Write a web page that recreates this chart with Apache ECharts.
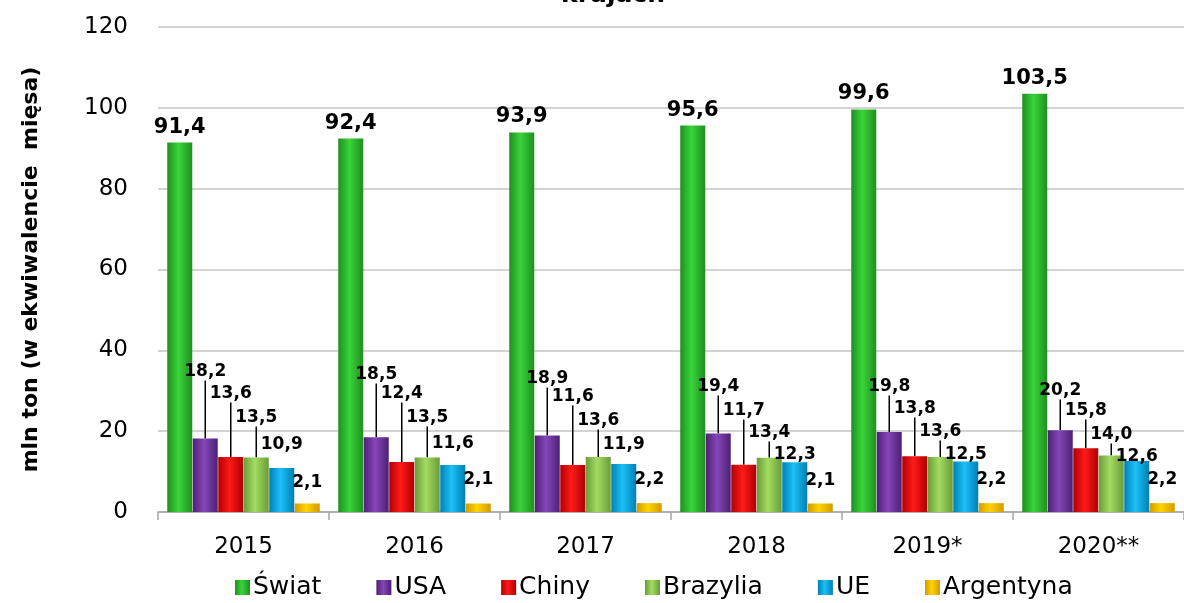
<!DOCTYPE html>
<html>
<head>
<meta charset="utf-8">
<script src="https://cdn.jsdelivr.net/npm/echarts@6/dist/echarts.min.js"></script>
<style>
html, body { margin: 0; padding: 0; background: #ffffff; }
#main { width: 1184px; height: 603px; }
</style>
</head>
<body>
<div id="main"></div>
<script>
var years = ['2015', '2016', '2017', '2018', '2019*', '2020**']
var seriesNames = ['Świat', 'USA', 'Chiny', 'Brazylia', 'UE', 'Argentyna']
var swiat = [91.4, 92.4, 93.9, 95.6, 99.6, 103.5]
var usa = [18.2, 18.5, 18.9, 19.4, 19.8, 20.2]
var chiny = [13.6, 12.4, 11.6, 11.7, 13.8, 15.8]
var brazylia = [13.5, 13.5, 13.6, 13.4, 13.6, 14.0]
var ue = [10.9, 11.6, 11.9, 12.3, 12.5, 12.6]
var argentyna = [2.1, 2.1, 2.2, 2.1, 2.2, 2.2]

// where the small labels sit (pixel centre, like the hand-placed labels in the original)
var labelY = {
  'USA': [372, 375, 379, 387, 387, 391],
  'Chiny': [394, 394, 397, 411, 409, 411],
  'Brazylia': [418, 418, 421, 433, 432, 435],
  'UE': [445, 444, 445, 455, 455, 457],
  'Argentyna': [483, 480, 480, 481, 480, 480]
}

var colors = {
  'Świat': ['#1f8f1f', '#3ad43a', '#1f8f1f'],
  'USA': ['#4e1f75', '#8447b8', '#4e1f75'],
  'Chiny': ['#b00000', '#ff1a1a', '#b00000'],
  'Brazylia': ['#6a9c38', '#a3dc62', '#6a9c38'],
  'UE': ['#0080b3', '#1cc0f8', '#0080b3'],
  'Argentyna': ['#d39a00', '#ffd400', '#d39a00']
}

function fmt(v) {
  return v.toFixed(1).replace('.', ',')
}

function makeSeries(name, values) {
  var c = colors[name]
  var s = {
    name: name,
    type: 'bar',
    data: values,
    barWidth: 25,
    barGap: '2%',
    itemStyle: {
      color: new echarts.graphic.LinearGradient(0, 0, 1, 0, [
        { offset: 0, color: c[0] },
        { offset: 0.45, color: c[1] },
        { offset: 1, color: c[2] }
      ])
    },
    label: {
      show: true,
      position: 'top',
      distance: 5,
      color: '#000',
      fontFamily: 'DejaVu Sans',
      fontWeight: 'bold',
      fontSize: 17,
      formatter: function(p) { return fmt(p.value) }
    }
  }
  if (name === 'Świat') {
    s.label.fontSize = 21
  } else {
    var targets = labelY[name]
    s.labelLayout = function(params) {
      var t = targets[params.dataIndex]
      return { dy: t - (params.labelRect.y + params.labelRect.height / 2) }
    }
    var withLine = (name === 'USA' || name === 'Chiny' || name === 'Brazylia')
    s.labelLine = {
      show: withLine,
      length2: 0,
      smooth: false,
      lineStyle: { color: '#000', width: 1.5 }
    }
  }
  return s
}

var myChart = echarts.init(document.getElementById('main'), null, { renderer: 'canvas' })
var option = {
  backgroundColor: '#ffffff',
  animation: false,
  title: {
    text: 'krajach',
    left: 608,
    textAlign: 'center',
    top: -22,
    textStyle: {
      fontFamily: 'DejaVu Sans',
      fontWeight: 'bold',
      fontSize: 25,
      color: '#000'
    }
  },
  grid: {
    left: 158,
    right: -4,
    top: 27,
    bottom: 91,
    containLabel: false
  },
  legend: {
    data: seriesNames,
    left: 230,
    top: 570,
    itemWidth: 15,
    itemHeight: 15,
    itemGap: 55,
    icon: 'rect',
    textStyle: {
      fontFamily: 'DejaVu Sans',
      fontSize: 25,
      color: '#000',
      padding: [0, 0, 0, -2]
    }
  },
  xAxis: {
    type: 'category',
    data: years,
    axisLine: { lineStyle: { color: '#a6a6a6', width: 1.5 } },
    axisTick: { show: true, length: 8, lineStyle: { color: '#a6a6a6', width: 1.5 } },
    axisLabel: {
      margin: 24,
      color: '#000',
      fontFamily: 'DejaVu Sans',
      fontSize: 23
    }
  },
  yAxis: {
    type: 'value',
    min: 0,
    max: 120,
    interval: 20,
    name: 'mln ton (w ekwiwalencie  mięsa)',
    nameLocation: 'middle',
    nameGap: 116,
    nameTextStyle: {
      fontFamily: 'DejaVu Sans',
      fontWeight: 'bold',
      fontSize: 22,
      color: '#000'
    },
    axisLine: { show: false },
    axisTick: { show: false },
    axisLabel: {
      margin: 30,
      color: '#000',
      fontFamily: 'DejaVu Sans',
      fontSize: 23
    },
    splitLine: { lineStyle: { color: '#c4c4c4', width: 1.5 } }
  },
  series: [
    makeSeries('Świat', swiat),
    makeSeries('USA', usa),
    makeSeries('Chiny', chiny),
    makeSeries('Brazylia', brazylia),
    makeSeries('UE', ue),
    makeSeries('Argentyna', argentyna)
  ]
}
myChart.setOption(option, true)
window.addEventListener('resize', () => {
  myChart.resize()
})
</script>
</body>
</html>
